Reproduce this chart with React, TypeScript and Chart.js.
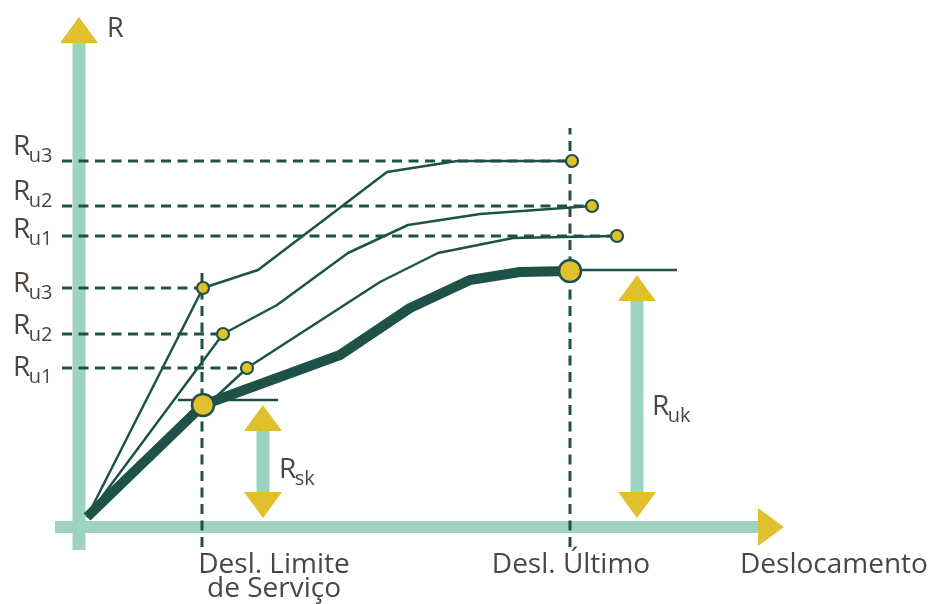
import React, { useEffect, useRef } from "react";
import { Chart, registerables } from "chart.js";
Chart.register(...registerables);

// ---- values (displacement / resistance, origin = 0,0) ----
const thickX = [0, 116, 253, 323, 383, 433, 483];
const thickY = [0, 112, 162, 209, 237, 245, 246];
const curve1X = [0, 160, 293, 351, 426, 530];
const curve1Y = [0, 149, 235, 264, 279, 281];
const curve2X = [0, 136, 190, 261, 321, 393, 505];
const curve2Y = [0, 183, 212, 264, 292, 303, 311];
const curve3X = [0, 116, 171, 300, 370, 485];
const curve3Y = [0, 229, 247, 345, 356, 356];

const serviceDisp = 115;
const ultimateDisp = 483;
const Rsk = 117;
const Ruk = 247;
const serviceLevels = [149, 183, 229]; // Ru1, Ru2, Ru3 at service displacement
const ultimateLevels = [281, 311, 356]; // Ru1, Ru2, Ru3 at ultimate displacement
const levelSubs = ["u1", "u2", "u3"];
const xTickLabels = ["Desl. Limite", "de Serviço", "Desl. Último"];
const axisTitles = ["Deslocamento", "R"];

// ---- styling ----
const DARK = "#1e5248";
const AXIS = "#9dd3bf";
const YELLOW = "#e0c02c";
const TEXT = "#4b4642";
const FONT = '"Open Sans", "Noto Sans", sans-serif';

const xy = (xs: number[], ys: number[]) => xs.map((x, i) => ({ x, y: ys[i] }));

const dashed = (pts: { x: number; y: number }[]) => ({
  data: pts,
  showLine: true,
  borderColor: DARK,
  borderWidth: 3,
  borderDash: [10, 6.5],
  pointRadius: 0,
  order: 10,
});

const thin = (pts: { x: number; y: number }[], w = 2.5) => ({
  data: pts,
  showLine: true,
  borderColor: DARK,
  borderWidth: w,
  pointRadius: 0,
  borderJoinStyle: "round" as const,
  order: 5,
});

const diagramPlugin = {
  id: "diagram",
  beforeDatasetsDraw(chart: any) {
    const { ctx, scales } = chart;
    const X = (v: number) => scales.x.getPixelForValue(v);
    const Y = (v: number) => scales.y.getPixelForValue(v);
    const head = (tx: number, ty: number, dx: number, dy: number, len = 26, hw = 19) => {
      const bx = tx - dx * len;
      const by = ty - dy * len;
      ctx.beginPath();
      ctx.moveTo(tx, ty);
      ctx.lineTo(bx - dy * hw, by + dx * hw);
      ctx.lineTo(bx + dy * hw, by - dx * hw);
      ctx.closePath();
      ctx.fillStyle = YELLOW;
      ctx.fill();
    };
    const bar = (x1: number, y1: number, x2: number, y2: number, w: number) => {
      ctx.beginPath();
      ctx.moveTo(x1, y1);
      ctx.lineTo(x2, y2);
      ctx.lineWidth = w;
      ctx.strokeStyle = AXIS;
      ctx.lineCap = "butt";
      ctx.stroke();
    };
    ctx.save();
    // vertical axis
    const ax = X(-8);
    const yTip = Y(500);
    bar(ax, Y(-33), ax, yTip + 25, 13);
    head(ax, yTip, 0, -1);
    // horizontal axis
    const ay = Y(-10);
    const xTip = X(697);
    bar(X(-32), ay, xTip - 25, ay, 12);
    head(xTip, ay, 1, 0);
    // double arrows Rsk, Ruk
    const dbl = (xv: number, r: number) => {
      const px = X(xv);
      const bot = Y(0) + 1;
      const top = Y(r) + 5;
      bar(px, bot - 25, px, top + 25, 13);
      head(px, top, 0, -1);
      head(px, bot, 0, 1);
    };
    dbl(176, Rsk);
    dbl(550, Ruk);
    ctx.restore();
  },
  afterDatasetsDraw(chart: any) {
    const { ctx, scales } = chart;
    const X = (v: number) => scales.x.getPixelForValue(v);
    const Y = (v: number) => scales.y.getPixelForValue(v);
    ctx.save();
    ctx.fillStyle = TEXT;
    ctx.textBaseline = "alphabetic";
    const rLabel = (x: number, y: number, sub: string) => {
      ctx.textAlign = "left";
      ctx.font = `28px ${FONT}`;
      ctx.fillText("R", x, y);
      const w = ctx.measureText("R").width;
      ctx.font = `20px ${FONT}`;
      ctx.fillText(sub, x + w - 1.5, y + 7);
    };
    // Ru labels on the left
    const upperBase = [279, 317, 362];
    const lowerBase = [141, 183, 225];
    levelSubs.forEach((s, i) => {
      rLabel(X(-74), Y(upperBase[i]), s);
      rLabel(X(-74), Y(lowerBase[i]), s);
    });
    rLabel(X(192), Y(39), "sk");
    rLabel(X(565), Y(102), "uk");
    // axis title R
    ctx.font = `27px ${FONT}`;
    ctx.textAlign = "left";
    ctx.fillText(axisTitles[1], X(20), Y(480));
    // bottom labels
    ctx.font = `28px ${FONT}`;
    ctx.textAlign = "center";
    ctx.fillText(xTickLabels[0], X(187), Y(-56));
    ctx.fillText(xTickLabels[1], X(187), Y(-80));
    ctx.fillText(xTickLabels[2], X(484), Y(-56));
    ctx.textAlign = "left";
    ctx.fillText(axisTitles[0], X(653), Y(-56));
    ctx.restore();
  },
};

export default function App() {
  const ref = useRef<HTMLCanvasElement>(null);
  useEffect(() => {
    document.body.style.margin = "0";
    const curves = [
      [curve1X, curve1Y],
      [curve2X, curve2Y],
      [curve3X, curve3Y],
    ];
    const datasets: any[] = [];
    // dashed horizontal lines to Ru levels
    curves.forEach(([xs, ys], i) => {
      datasets.push(dashed([{ x: -25, y: serviceLevels[i] }, { x: xs[1], y: serviceLevels[i] }]));
      datasets.push(dashed([{ x: -25, y: ultimateLevels[i] }, { x: xs[xs.length - 1], y: ultimateLevels[i] }]));
    });
    // dashed verticals
    datasets.push(dashed([{ x: serviceDisp, y: -30 }, { x: serviceDisp, y: 247 }]));
    datasets.push(dashed([{ x: ultimateDisp, y: -30 }, { x: ultimateDisp, y: 389 }]));
    // horizontal reference lines for Rsk and Ruk
    datasets.push(thin([{ x: 91, y: Rsk }, { x: 191, y: Rsk }]));
    datasets.push(thin([{ x: ultimateDisp, y: Ruk }, { x: 590, y: Ruk }]));
    // thin curves
    curves.forEach(([xs, ys]) => datasets.push(thin(xy(xs, ys))));
    // thick characteristic curve
    datasets.push({
      data: xy(thickX, thickY),
      showLine: true,
      borderColor: DARK,
      borderWidth: 10,
      borderJoinStyle: "round",
      pointRadius: 0,
      order: 4,
    });
    // small markers
    const small: { x: number; y: number }[] = [];
    curves.forEach(([xs, ys]) => {
      small.push({ x: xs[1], y: ys[1] });
      small.push({ x: xs[xs.length - 1], y: ys[ys.length - 1] });
    });
    datasets.push({
      data: small,
      showLine: false,
      pointRadius: 6,
      pointBorderWidth: 2.2,
      pointBackgroundColor: YELLOW,
      pointBorderColor: DARK,
      order: 1,
    });
    datasets.push({
      data: [
        { x: thickX[1], y: thickY[1] },
        { x: thickX[thickX.length - 1], y: thickY[thickY.length - 1] },
      ],
      showLine: false,
      pointRadius: 11,
      pointBorderWidth: 2.5,
      pointBackgroundColor: YELLOW,
      pointBorderColor: DARK,
      order: 0,
    });

    const chart = new Chart(ref.current!, {
      type: "scatter",
      data: { datasets },
      options: {
        animation: false,
        responsive: true,
        maintainAspectRatio: false,
        events: [],
        layout: { padding: 0, autoPadding: false },
        plugins: { legend: { display: false }, tooltip: { enabled: false }, title: { display: false } },
        scales: {
          x: { type: "linear", min: -87, max: 848, display: false },
          y: { type: "linear", min: -87, max: 517, display: false },
        },
      },
      plugins: [diagramPlugin],
    } as any);
    return () => chart.destroy();
  }, []);
  return (
    <div style={{ width: 935, height: 604, position: "relative", background: "#fff" }}>
      <canvas ref={ref} />
    </div>
  );
}
